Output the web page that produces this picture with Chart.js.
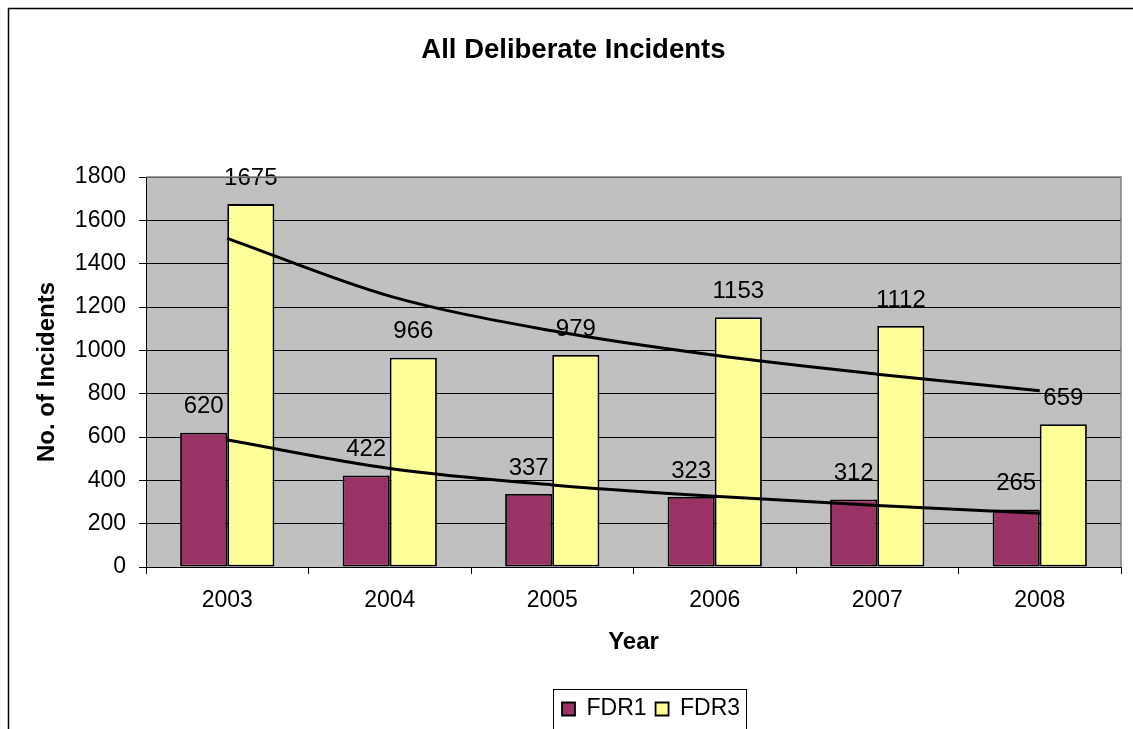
<!DOCTYPE html>
<html>
<head>
<meta charset="utf-8">
<script src="https://cdn.jsdelivr.net/npm/chart.js@4.4.1/dist/chart.umd.min.js"></script>
<style>
  html, body { margin: 0; padding: 0; background: #ffffff; }
  #wrap { width: 1133px; height: 729px; position: relative; }
</style>
</head>
<body>
<div id="wrap"><canvas id="chart" width="1133" height="729"></canvas></div>
<script>
// Yearly incident counts
const years = ['2003', '2004', '2005', '2006', '2007', '2008'];
const fdr1 = [620, 422, 337, 323, 312, 265];
const fdr3 = [1675, 966, 979, 1153, 1112, 659];

// Logarithmic trend lines, one value per year
const fdr1Trend = [586, 455, 379, 326, 284, 248];
const fdr3Trend = [1517, 1250, 1090, 977, 890, 814];

// Value axis range
const yMin = 0;
const yMax = 1800;
const yStep = 200;

const FONT = '"Liberation Sans", Arial, Helvetica, sans-serif';

// Page frame, grey plot background and plot outline
const framePlugin = {
  id: 'frame',
  beforeDraw(chart) {
    const { ctx, chartArea: a } = chart;
    ctx.save();
    ctx.fillStyle = '#ffffff';
    ctx.fillRect(0, 0, chart.width, chart.height);
    ctx.strokeStyle = '#000000';
    ctx.lineWidth = 1.5;
    ctx.beginPath();
    ctx.moveTo(8.5, chart.height + 5);
    ctx.lineTo(8.5, 8.5);
    ctx.lineTo(chart.width + 5, 8.5);
    ctx.stroke();
    ctx.fillStyle = '#C0C0C0';
    ctx.fillRect(a.left, a.top, a.right - a.left, a.bottom - a.top);
    ctx.restore();
  },
  afterDraw(chart) {
    const { ctx, chartArea: a, legend } = chart;
    ctx.save();
    ctx.strokeStyle = '#808080';
    ctx.lineWidth = 1.5;
    ctx.beginPath();
    ctx.moveTo(a.left, a.top);
    ctx.lineTo(a.right, a.top);
    ctx.lineTo(a.right, a.bottom);
    ctx.stroke();
    // box round the legend
    if (legend && legend.lineWidths) {
      const pad = legend.options.labels.padding;
      const w = legend.lineWidths[0] + pad - 3;
      ctx.strokeStyle = '#000000';
      ctx.lineWidth = 1;
      ctx.strokeRect(Math.round(legend.left) + 0.5, Math.round(legend.top) + 0.5, Math.round(w), 80);
    }
    ctx.restore();
  },
  afterLayout(chart) {
    const lg = chart.legend;
    if (!lg) return;
    const w = lg.right - lg.left;
    const h = lg.bottom - lg.top;
    lg.left = 553;
    lg.right = lg.left + w;
    lg.top = 688.5;
    lg.bottom = lg.top + h;
  }
};

// Value written above each column
const barLabelPlugin = {
  id: 'barLabels',
  afterDatasetsDraw(chart) {
    const { ctx } = chart;
    ctx.save();
    ctx.font = '24px ' + FONT;
    ctx.fillStyle = '#000000';
    ctx.textAlign = 'center';
    ctx.textBaseline = 'middle';
    chart.data.datasets.forEach((ds, i) => {
      if (ds.type !== 'bar') return;
      const meta = chart.getDatasetMeta(i);
      meta.data.forEach((el, j) => {
        ctx.fillText(String(ds.data[j]), el.x, el.y - 26);
      });
    });
    ctx.restore();
  }
};

new Chart(document.getElementById('chart'), {
  data: {
    labels: years,
    datasets: [
      {
        type: 'line',
        label: 'FDR1 trend',
        data: fdr1Trend,
        borderColor: '#000000',
        borderWidth: 3,
        pointRadius: 0,
        fill: false,
        cubicInterpolationMode: 'monotone',
        order: 0
      },
      {
        type: 'line',
        label: 'FDR3 trend',
        data: fdr3Trend,
        borderColor: '#000000',
        borderWidth: 3,
        pointRadius: 0,
        fill: false,
        cubicInterpolationMode: 'monotone',
        order: 0
      },
      {
        type: 'bar',
        label: 'FDR1',
        data: fdr1,
        backgroundColor: '#993366',
        borderColor: '#000000',
        borderWidth: 1.8,
        borderSkipped: false,
        categoryPercentage: 0.58,
        barPercentage: 1.0,
        order: 1
      },
      {
        type: 'bar',
        label: 'FDR3',
        data: fdr3,
        backgroundColor: '#FFFF99',
        borderColor: '#000000',
        borderWidth: 1.8,
        borderSkipped: false,
        categoryPercentage: 0.58,
        barPercentage: 1.0,
        order: 1
      }
    ]
  },
  options: {
    responsive: false,
    animation: false,
    events: [],
    layout: { padding: { left: 25.8, right: 12, top: 0, bottom: 0 } },
    plugins: {
      title: {
        display: true,
        text: 'All Deliberate Incidents',
        color: '#000000',
        font: { family: FONT, size: 27.5, weight: 'bold', lineHeight: 1.2 },
        padding: { top: 33.5, bottom: 110.5 }
      },
      legend: {
        display: true,
        position: 'bottom',
        align: 'start',
        labels: {
          color: '#000000',
          font: { family: FONT, size: 23 },
          boxWidth: 13,
          boxHeight: 13,
          padding: 9,
          filter: (item) => item.text === 'FDR1' || item.text === 'FDR3'
        }
      },
      tooltip: { enabled: false }
    },
    scales: {
      x: {
        type: 'category',
        offset: true,
        grid: {
          display: true,
          offset: true,
          drawOnChartArea: false,
          drawTicks: true,
          tickLength: 7,
          color: '#000000',
          lineWidth: 1
        },
        border: { display: true, color: '#000000', width: 1 },
        ticks: {
          color: '#000000',
          font: { family: FONT, size: 23 },
          padding: 13,
          maxRotation: 0
        },
        title: {
          display: true,
          text: 'Year',
          color: '#000000',
          font: { family: FONT, size: 24, weight: 'bold', lineHeight: 1.2 },
          padding: { top: 0, bottom: 30.6 }
        },
        afterFit(scale) { scale.height = 120; }
      },
      y: {
        type: 'linear',
        min: yMin,
        max: yMax,
        grid: {
          display: true,
          drawOnChartArea: true,
          drawTicks: true,
          tickLength: 7,
          color: '#000000',
          lineWidth: 1
        },
        border: { display: true, color: '#000000', width: 1 },
        ticks: {
          stepSize: yStep,
          color: '#000000',
          font: { family: FONT, size: 23 },
          padding: 13,
          callback: (value) => String(value)
        },
        title: {
          display: true,
          text: 'No. of Incidents',
          color: '#000000',
          font: { family: FONT, size: 24, weight: 'bold', lineHeight: 1.2 },
          padding: { top: 7.3, bottom: 0 }
        },
        afterFit(scale) { scale.width = 120.2; }
      }
    }
  },
  plugins: [framePlugin, barLabelPlugin]
});
</script>
</body>
</html>
